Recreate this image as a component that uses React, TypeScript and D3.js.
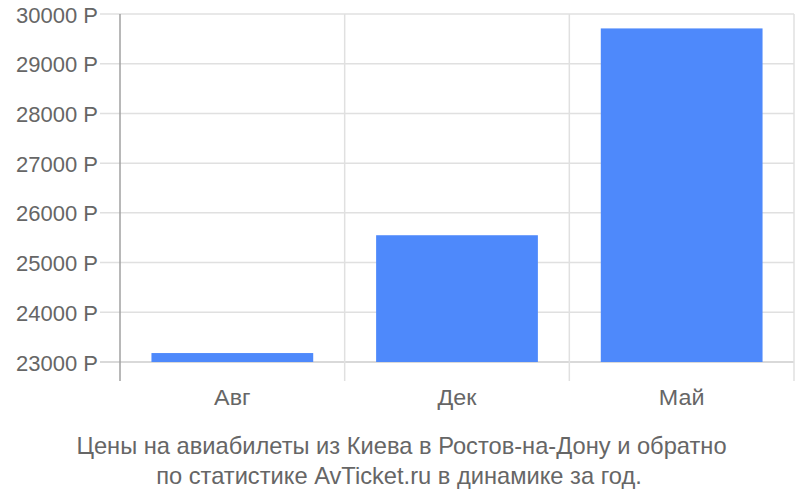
import React from 'react';
import * as d3 from 'd3';

const categories = ['Авг', 'Дек', 'Май'];
const prices = [23180, 25550, 29710];
const yTicks = [23000, 24000, 25000, 26000, 27000, 28000, 29000, 30000];
const titleLines = [
  'Цены на авиабилеты из Киева в Ростов-на-Дону и обратно',
  'по статистике AvTicket.ru в динамике за год.',
];

const W = 800;
const H = 500;
const left = 120;
const right = 794;
const top = 14;
const bottom = 362;
const font = '"Liberation Sans", Arial, sans-serif';

function Label({ x, y, anchor, size, sx = 1, children }: { x: number; y: number; anchor: string; size: number; sx?: number; children: React.ReactNode }) {
  return (
    <text transform={`translate(${x},${y}) scale(${sx},1)`} textAnchor={anchor}
      fontSize={size} fill="#666">
      {children}
    </text>
  );
}

export default function App() {
  const x = d3.scaleBand<string>()
    .domain(categories)
    .range([left, right])
    .paddingInner(0.28)
    .paddingOuter(0.14);

  const y = d3.scaleLinear().domain([23000, 30000]).range([bottom, top]);

  const step = x.step();
  const bounds = d3.range(categories.length + 1).map(i => left + i * step);

  return (
    <svg width={W} height={H} style={{ position: 'absolute', left: 0, top: 0, fontFamily: font }}>
      <rect width={W} height={H} fill="#fff" />

      {/* horizontal grid + small tick stubs */}
      {yTicks.map(t => (
        <g key={t}>
          <line x1={100} x2={right} y1={y(t)} y2={y(t)}
            stroke={t === 23000 ? '#cccccc' : '#e0e0e0'} strokeWidth={1.5} />
          <Label x={98} y={y(t) + 8.5} anchor="end" size={22}>{t} Р</Label>
        </g>
      ))}

      {/* vertical grid */}
      {bounds.map((bx, i) => (
        <line key={i} x1={bx} x2={bx} y1={top} y2={381}
          stroke={i === 0 ? '#a0a0a0' : '#e0e0e0'} strokeWidth={1.5} />
      ))}

      {/* bars */}
      {categories.map((c, i) => (
        <rect key={c} x={x(c)} y={y(prices[i])} width={x.bandwidth()}
          height={bottom - y(prices[i])} fill="#4e89fb" />
      ))}

      {/* category labels */}
      {categories.map(c => (
        <Label key={c} x={(x(c) as number) + x.bandwidth() / 2} y={405} anchor="middle" size={22} sx={1.06}>
          {c}
        </Label>
      ))}

      {titleLines.map((l, i) => (
        <Label key={i} x={i === 0 ? 401.5 : 399} y={454 + i * 30} anchor="middle" size={23} sx={1.03}>
          {l}
        </Label>
      ))}
    </svg>
  );
}
